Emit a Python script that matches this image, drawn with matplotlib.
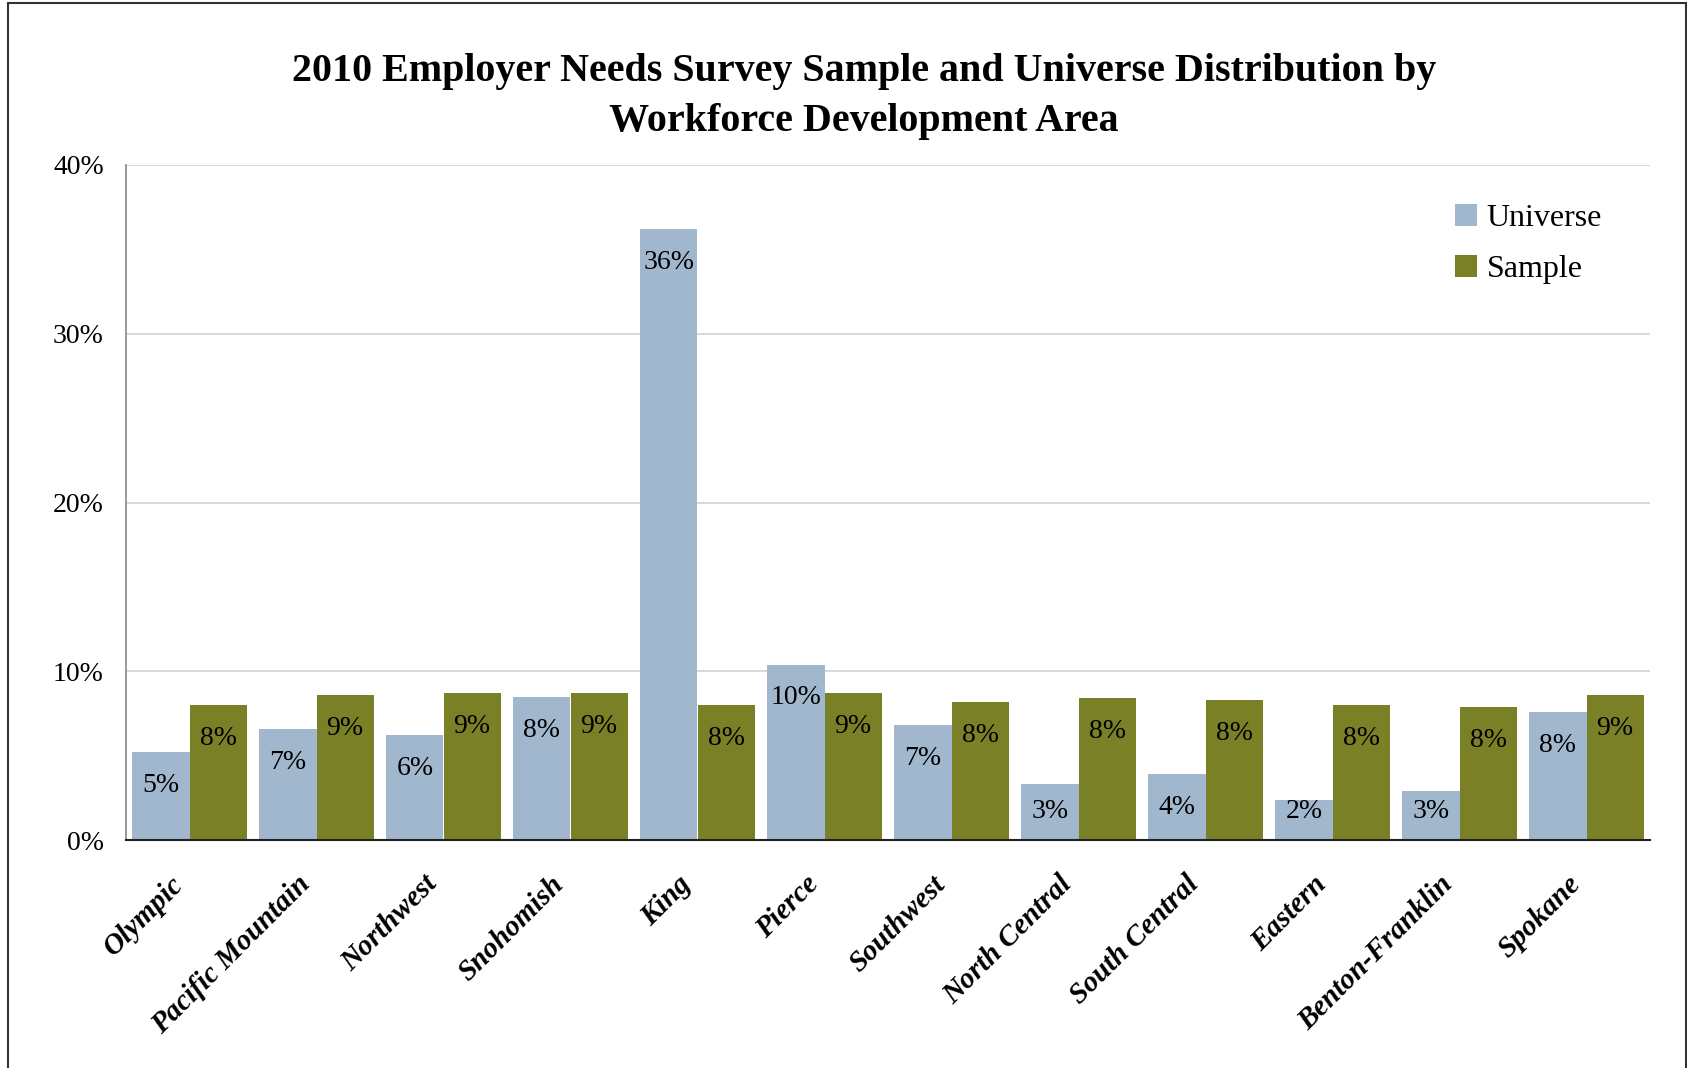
import matplotlib
matplotlib.use("Agg")
import matplotlib.pyplot as plt
from matplotlib.patches import Rectangle
from matplotlib.ticker import PercentFormatter
from matplotlib.transforms import ScaledTranslation
import numpy as np

areas = ["Olympic", "Pacific Mountain", "Northwest", "Snohomish", "King", "Pierce",
         "Southwest", "North Central", "South Central", "Eastern", "Benton-Franklin", "Spokane"]
universe = [5.2, 6.6, 6.2, 8.5, 36.2, 10.4, 6.8, 3.3, 3.9, 2.4, 2.9, 7.6]
sample = [8.0, 8.6, 8.7, 8.7, 8.0, 8.7, 8.2, 8.4, 8.3, 8.0, 7.9, 8.6]
yticks = [0, 10, 20, 30, 40]

plt.rcParams["font.family"] = ["Liberation Serif", "DejaVu Serif"]

W, H = 1687, 1068
fig = plt.figure(figsize=(W / 100, H / 100), dpi=100)
fig.patch.set_facecolor("white")

# outer chart border
fig.patches.append(Rectangle((8 / W, -0.01), (1686 - 8) / W, 1.01 - 3 / H,
                             transform=fig.transFigure, fill=False,
                             edgecolor="#333333", linewidth=1.5))

ax = fig.add_axes([126 / W, 1 - 840 / H, (1650 - 126) / W, (840 - 165) / H])

x = np.arange(len(areas))
bw = 0.45
c_uni = "#A1B7CE"
c_smp = "#7A8026"
b1 = ax.bar(x - bw / 2, universe, bw, color=c_uni, label="Universe", zorder=2)
b2 = ax.bar(x + bw / 2, sample, bw, color=c_smp, label="Sample", zorder=2)

# value labels sit just inside the bar end, kept above the axis for short bars
for bars, vals in ((b1, universe), (b2, sample)):
    for rect, v in zip(bars, vals):
        ax.text(rect.get_x() + rect.get_width() / 2, max(v - 2.37, 1.3),
                f"{v:.0f}%", ha="center", va="baseline", fontsize=20,
                color="black", zorder=3)

ax.set_xlim(-0.5, len(areas) - 0.5)
ax.set_ylim(0, 40)
ax.set_yticks(yticks)
ax.yaxis.set_major_formatter(PercentFormatter(decimals=0))
ax.grid(axis="y", color="#D3D3D3", linewidth=1.2, zorder=0)
ax.set_axisbelow(True)

ax.tick_params(axis="y", length=0, pad=16, labelsize=20)
ax.tick_params(axis="x", length=0, pad=22)
ax.set_xticks(x)
ax.set_xticklabels(areas, rotation=45, ha="right", rotation_mode="anchor",
                   fontsize=21, fontweight="bold", fontstyle="italic")
shift = ScaledTranslation(-20 / 100, 0, fig.dpi_scale_trans)
for lbl in ax.get_xticklabels():
    lbl.set_transform(lbl.get_transform() + shift)

for s in ("top", "right"):
    ax.spines[s].set_visible(False)
ax.spines["left"].set_color("#888888")
ax.spines["left"].set_linewidth(1.2)
ax.spines["bottom"].set_color("#222222")
ax.spines["bottom"].set_linewidth(1.5)

leg = ax.legend(loc="upper right", bbox_to_anchor=(0.9875, 0.985), frameon=False,
                fontsize=23, handlelength=0.7, handleheight=0.7,
                handletextpad=0.3, labelspacing=0.68)

fig.text(864 / W, 1 - 72 / H, "2010 Employer Needs Survey Sample and Universe Distribution by",
         ha="center", va="center", fontsize=28.8, fontweight="bold")
fig.text(864 / W, 1 - 121 / H, "Workforce Development Area",
         ha="center", va="center", fontsize=28.8, fontweight="bold")

fig.savefig("out.png", dpi=100, facecolor="white")
